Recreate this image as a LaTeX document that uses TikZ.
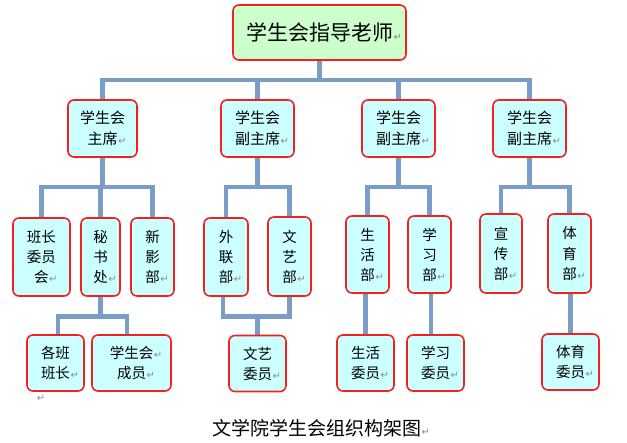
\documentclass[tikz,border=0pt]{standalone}
\usepackage{fontspec}
\setmainfont{Noto Sans CJK SC}
\newfontfamily\dejavu{DejaVu Sans}
\usetikzlibrary{backgrounds}
\definecolor{boxred}{HTML}{F42020}
\definecolor{boxcyan}{HTML}{CCFFFF}
\definecolor{topgreen}{HTML}{CCFFCC}
\definecolor{linkblue}{HTML}{7A9DC7}
\definecolor{markgray}{HTML}{8A8A8A}
\newcommand\pmk{\rlap{\hspace{0.5pt}\textcolor{markgray}{\dejavu\fontsize{10}{10}\selectfont ↵}}}
\tikzset{
  box/.style={draw=boxred, line width=1.6pt, rounded corners=6pt, fill=boxcyan, inner sep=0pt, align=center},
  lvtwo/.style={box, minimum height=57pt, font=\fontsize{15}{21}\selectfont},
  lvthree/.style={box, font=\fontsize{14.5}{20}\selectfont},
  lvfour/.style={box, minimum width=57pt, minimum height=56pt, font=\fontsize{14.5}{20}\selectfont},
  conn/.style={draw=linkblue, line width=4.2pt},
}
\begin{document}
\begin{tikzpicture}[x=1pt,y=-1pt]
\useasboundingbox (0,0) rectangle (627,443);
\node[box, fill=topgreen, minimum width=173pt, minimum height=55pt, font=\fontsize{21}{24}\selectfont] (top) at (319.5,32.5) {学生会指导老师\pmk};
% level 2
\node[lvtwo, minimum width=69pt] (c1) at (102.5,128.5) {学生会\\主席\pmk};
\node[lvtwo, minimum width=73pt] (c2) at (257.5,128.5) {学生会\\副主席\pmk};
\node[lvtwo, minimum width=73pt] (c3) at (398.5,128.5) {学生会\\副主席\pmk};
\node[lvtwo, minimum width=73pt] (c4) at (529.5,128.5) {学生会\\副主席\pmk};
% level 3
\node[lvthree, minimum width=57pt, minimum height=78pt] (d1) at (41.5,257) {班长\\委员\\会\pmk};
\node[lvthree, minimum width=39pt, minimum height=78pt] (d2) at (100.5,257) {秘\\书\\处\pmk};
\node[lvthree, minimum width=43pt, minimum height=78pt] (d3) at (152.5,257) {新\\影\\部\pmk};
\node[lvthree, minimum width=44pt, minimum height=78pt] (d4) at (226,257) {外\\联\\部\pmk};
\node[lvthree, minimum width=43pt, minimum height=79pt] (d5) at (289.5,256.5) {文\\艺\\部\pmk};
\node[lvthree, minimum width=43pt, minimum height=77pt] (d6) at (367.5,254.5) {生\\活\\部\pmk};
\node[lvthree, minimum width=43pt, minimum height=77pt] (d7) at (429.5,254.5) {学\\习\\部\pmk};
\node[lvthree, minimum width=42pt, minimum height=79pt] (d8) at (501,253.5) {宣\\传\\部\pmk};
\node[lvthree, minimum width=43pt, minimum height=79pt] (d9) at (569.5,253.5) {体\\育\\部\pmk};
% level 4
\node[lvfour] (e1) at (55.5,363) {各班\\班长\pmk};
\node[lvfour, minimum width=79pt] (e2) at (131.5,363) {学生会\pmk\\成员\pmk};
\node[lvfour] (e3) at (257.5,363.5) {文艺\\委员\pmk};
\node[lvfour] (e4) at (365.5,363) {生活\\委员\pmk};
\node[lvfour] (e5) at (435.5,363) {学习\\委员\pmk};
\node[lvfour] (e6) at (570.5,362) {体育\\委员\pmk};
% caption and stray mark
\node[font=\fontsize{19}{22}\selectfont, inner sep=0pt] (cap) at (316.5,428) {文学院学生会组织构架图\pmk};
\node[text=markgray, font=\dejavu\fontsize{10}{10}\selectfont, inner sep=0pt] (pm) at (41,398) {↵};
% bus bars
\coordinate (b1) at (0,80);
\coordinate (b2) at (0,187);
\coordinate (b3) at (0,316.5);
\begin{scope}[on background layer]
\draw[conn] (top.south) -- (top.south |- b1);
\draw[conn] (c1.north) |- (c4.north |- b1) -- (c4.north);
\draw[conn] (c2.north) -- (c2.north |- b1);
\draw[conn] (c3.north) -- (c3.north |- b1);
% group 1
\draw[conn] (c1.south) -- (c1.south |- b2);
\draw[conn] (d1.north) |- (d3.north |- b2) -- (d3.north);
\draw[conn] (d2.north) -- (d2.north |- b2);
% group 2
\draw[conn] (c2.south) -- (c2.south |- b2);
\draw[conn] (d4.north) |- (d5.north |- b2) -- (d5.north);
% group 3
\draw[conn] (c3.south) -- (c3.south |- b2);
\draw[conn] (d6.north) |- (d7.north |- b2) -- (d7.north);
% group 4
\draw[conn] (c4.south) -- (c4.south |- b2);
\draw[conn] (d8.north) |- (d9.north |- b2) -- (d9.north);
% level 4 links
\draw[conn] (d2.south) -- (d2.south |- b3);
\draw[conn] ([xshift=2.5pt]e1.north) |- ([xshift=-4.5pt]e2.north |- b3) -- ([xshift=-4.5pt]e2.north);
\draw[conn] ([xshift=-3pt]d4.south) |- (d5.south |- b3) -- (d5.south);
\draw[conn] (e3.north) -- (e3.north |- b3);
\draw[conn] (e4.north) -- (e4.north |- d6.south);
\draw[conn] ([xshift=1.5pt]d7.south) -- ([xshift=1.5pt]d7.south |- e5.north);
\draw[conn] (e6.north) -- (e6.north |- d9.south);
\end{scope}
\end{tikzpicture}
\end{document}
